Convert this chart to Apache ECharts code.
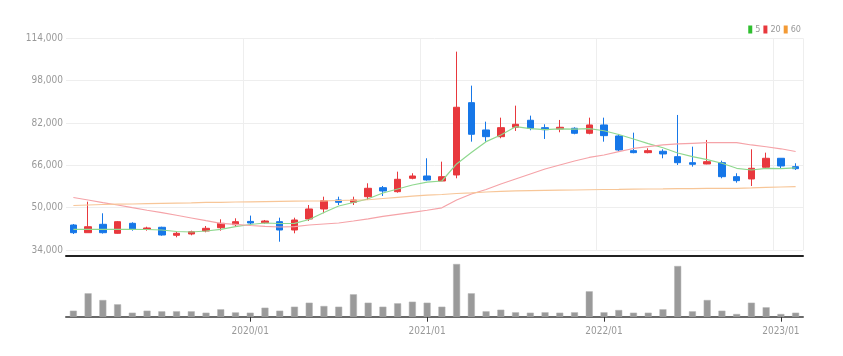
<!DOCTYPE html>
<html>
<head>
<meta charset="utf-8">
<script src="https://cdn.jsdelivr.net/npm/echarts@6/dist/echarts.min.js"></script>
<style>
html,body{margin:0;padding:0;background:#fff;}
#c{width:843px;height:356px;}
</style>
</head>
<body>
<div id="c"></div>
<script>
const categories = ["2019/01","2019/02","2019/03","2019/04","2019/05","2019/06","2019/07","2019/08","2019/09","2019/10","2019/11","2019/12",
"2020/01","2020/02","2020/03","2020/04","2020/05","2020/06","2020/07","2020/08","2020/09","2020/10","2020/11","2020/12",
"2021/01","2021/02","2021/03","2021/04","2021/05","2021/06","2021/07","2021/08","2021/09","2021/10","2021/11","2021/12",
"2022/01","2022/02","2022/03","2022/04","2022/05","2022/06","2022/07","2022/08","2022/09","2022/10","2022/11","2022/12",
"2023/01","2023/02"];
const opens  = [43450,40540,43710,40310,44090,41820,42580,39560,40050,41180,42430,43560,44800,44320,44700,41560,45720,49500,52900,52030,54150,57550,56040,61100,61970,60080,62350,89680,79360,76830,80380,83030,80230,79740,80000,78110,81250,77090,71540,70780,71310,69270,67000,66510,67000,61710,60840,65260,68660,65490];
const closes = [40540,42800,40540,44700,41820,42320,39670,40310,40920,42200,44090,44700,44200,44960,41560,45340,49500,52640,52030,52900,57320,56300,60720,61970,60460,61700,87940,77730,76830,80230,81510,80000,79470,80380,78110,81250,77210,71800,70780,71540,70290,67000,66390,67380,61710,60200,64880,68660,65750,64730];
const lows   = [40050,40540,40200,40160,41300,41300,39400,38800,39560,40690,41300,42800,43300,43940,37140,40310,44960,47870,51010,51010,52900,54410,55660,60720,60200,60080,61100,74940,74940,76220,78980,79250,75960,78490,77730,77730,74940,71420,70550,70550,68660,66130,65490,66390,61100,59440,58190,64880,64880,64240];
const highs  = [43830,52260,47870,44960,44470,42800,42800,40920,41300,43070,45600,45980,47000,45340,46210,46210,51010,54150,54150,54150,59210,58190,63600,63000,68660,67380,108960,96110,82500,84010,88550,84770,81510,83140,80380,84010,84010,77850,78340,72440,72060,85030,73050,75580,67760,63000,72060,70780,68660,66770];
const ma5  = [41820,41820,41820,41820,41820,41750,41560,40990,40800,41180,41820,42810,43640,44210,44020,44090,45530,48180,50630,51960,53350,55550,57060,58570,59630,60080,66510,70860,74940,77470,80610,79850,79470,79740,79660,79850,79060,77660,75960,74180,72630,70670,69270,68130,66770,64880,64240,64880,64730,65070];
const ma20 = [53845,52900,51880,51010,49990,49010,48100,47120,46100,45080,44090,43710,43260,42960,42690,42810,43450,43830,44210,44960,45790,46740,47490,48250,49010,49950,52900,55170,56870,58950,60840,62730,64620,66130,67640,68970,69910,71160,72370,73050,73690,74070,74330,74560,74560,74560,73690,73010,72250,71230];
const ma60 = [50820,51010,51200,51310,51390,51500,51610,51730,51840,51960,52030,52140,52220,52300,52370,52450,52520,52600,52710,52820,52980,53470,53920,54340,54710,54980,55360,55620,55920,56150,56340,56450,56530,56600,56680,56760,56870,56940,57020,57060,57100,57170,57210,57250,57280,57320,57440,57630,57810,57930];
const volumes = [600,2340,1670,1240,400,600,540,540,540,400,740,430,400,900,600,1000,1400,1070,1000,2240,1400,1000,1340,1500,1400,1000,5270,2340,540,700,440,400,440,400,440,2540,440,670,400,400,740,5070,540,1670,600,270,1400,940,270,400];
const priceTicks = [34000,50000,66000,82000,98000,114000];
const legendNames = ["5","20","60"];

const FONT = '"Liberation Sans Narrow","DejaVu Sans Condensed","Liberation Sans",sans-serif';
const isJan = (idx, val) => idx > 0 && String(val === undefined ? categories[idx] : val).endsWith('/01');
const ohlc = categories.map((c, i) => [opens[i], closes[i], lows[i], highs[i]]);

const chart = echarts.init(document.getElementById('c'), null, {renderer: 'canvas'});
chart.setOption({
  animation: false,
  backgroundColor: '#fff',
  color: ['#8fd88f', '#f5a3a8', '#f7c698'],
  legend: {
    data: legendNames,
    right: 37, top: 20,
    icon: 'rect', itemWidth: 4, itemHeight: 8, itemGap: 3,
    textStyle: {fontSize: 9, color: '#999', fontFamily: FONT, padding: [0, 0, 0, -2]}
  },
  grid: [
    {left: 66, right: 40, top: 38.3, height: 211.7},
    {left: 66, right: 40, top: 262, height: 54.7}
  ],
  xAxis: [
    {
      type: 'category', gridIndex: 0, data: categories, boundaryGap: true,
      offset: 6,
      axisLine: {show: true, lineStyle: {color: '#222', width: 2}},
      axisTick: {show: false},
      axisLabel: {show: false},
      splitLine: {show: true, interval: isJan, lineStyle: {color: '#eee', width: 1}}
    },
    {
      type: 'category', gridIndex: 1, data: categories, boundaryGap: true,
      axisLine: {show: true, lineStyle: {color: '#6a6a6a', width: 2}},
      axisTick: {show: true, interval: isJan, alignWithLabel: true, length: 5, lineStyle: {color: '#333'}},
      axisLabel: {show: true, interval: isJan, fontSize: 10, color: '#999', fontFamily: FONT, margin: 10},
      splitLine: {show: false}
    }
  ],
  yAxis: [
    {
      type: 'value', gridIndex: 0, min: 34000, max: 114000, scale: true,
      axisLine: {show: false}, axisTick: {show: false, customValues: priceTicks},
      axisLabel: {customValues: priceTicks, fontSize: 10, color: '#999', fontFamily: FONT, margin: 3,
        formatter: v => v.toLocaleString('en-US')},
      splitLine: {show: true, lineStyle: {color: '#eee', width: 1}}
    },
    {
      type: 'value', gridIndex: 1, min: 0, max: 5470,
      axisLine: {show: false}, axisTick: {show: false}, axisLabel: {show: false},
      splitLine: {show: false}
    }
  ],
  series: [
    {
      name: 'price', type: 'candlestick', xAxisIndex: 0, yAxisIndex: 0,
      data: ohlc, barWidth: 7,
      itemStyle: {color: '#e8383d', color0: '#1677e8', borderColor: '#e8383d', borderColor0: '#1677e8', borderWidth: 1}
    },
    {name: '5', type: 'line', xAxisIndex: 0, yAxisIndex: 0, data: ma5, symbol: 'none', lineStyle: {width: 1.2, color: '#8fd88f'}, itemStyle: {color: '#2fbf2f'}},
    {name: '20', type: 'line', xAxisIndex: 0, yAxisIndex: 0, data: ma20, symbol: 'none', lineStyle: {width: 1.2, color: '#f5a3a8'}, itemStyle: {color: '#e8383d'}},
    {name: '60', type: 'line', xAxisIndex: 0, yAxisIndex: 0, data: ma60, symbol: 'none', lineStyle: {width: 1.2, color: '#f7c698'}, itemStyle: {color: '#f39a35'}},
    {
      name: 'volume', type: 'bar', xAxisIndex: 1, yAxisIndex: 1, data: volumes, barWidth: 7,
      itemStyle: {color: '#9a9a9a', borderColor: '#b5b5b5', borderWidth: 0.5}
    }
  ]
});
</script>
</body>
</html>
